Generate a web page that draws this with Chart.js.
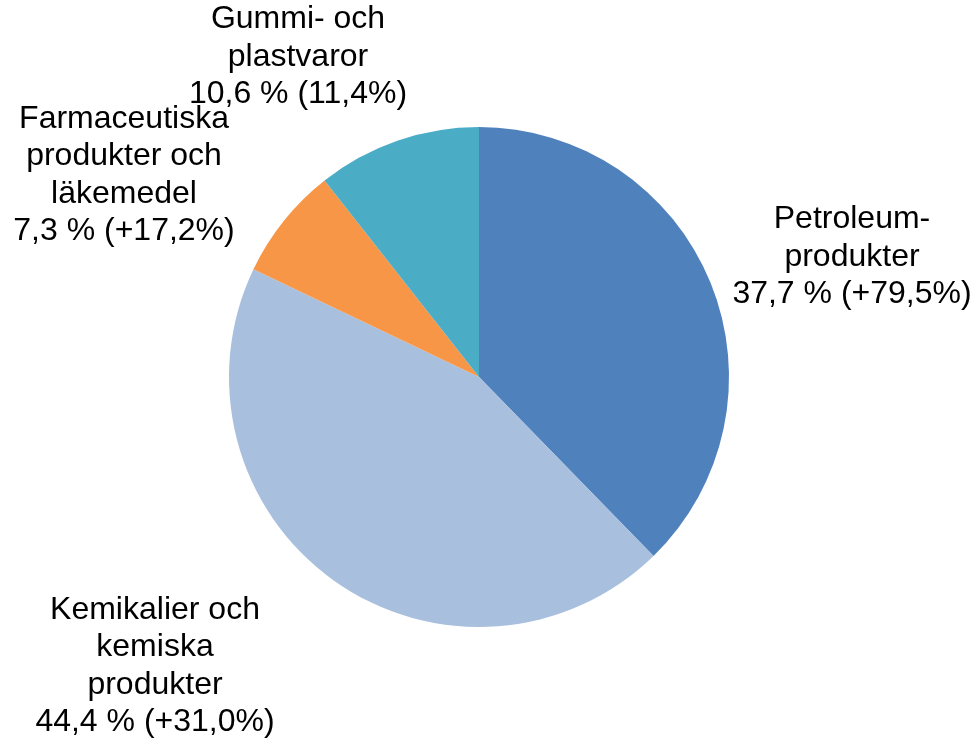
<!DOCTYPE html>
<html>
<head>
<meta charset="utf-8">
<script src="https://cdn.jsdelivr.net/npm/chart.js@4.4.1/dist/chart.umd.min.js"></script>
<style>
  html, body { margin: 0; padding: 0; background: #fff; }
  #wrap { width: 976px; height: 740px; }
</style>
</head>
<body>
<div id="wrap"><canvas id="pieChart" width="976" height="740"></canvas></div>
<script>
// data
const categories = [
  ["Petroleum-", "produkter"],
  ["Kemikalier och", "kemiska", "produkter"],
  ["Farmaceutiska", "produkter och", "läkemedel"],
  ["Gummi- och", "plastvaror"]
];
const shares = [37.7, 44.4, 7.3, 10.6];
const changes = ["+79,5%", "+31,0%", "+17,2%", "11,4%"];
const colors = ["#4F81BD", "#A8BFDE", "#F79646", "#4BACC6"];

// where each label block sits, relative to the pie centre
const labelOffsets = [[373, -120], [-324, 289], [-355, -202], [-181, -320]];

function fmt(v) {
  return v.toFixed(1).replace(".", ",");
}

const labelPlugin = {
  id: "sliceLabels",
  afterDraw(chart) {
    const ctx = chart.ctx;
    const arcs = chart.getDatasetMeta(0).data;
    const lineH = 37.5;
    ctx.save();
    ctx.fillStyle = "#000";
    ctx.font = "32px 'Liberation Sans', Arial, sans-serif";
    ctx.textAlign = "center";
    ctx.textBaseline = "middle";
    arcs.forEach((arc, i) => {
      const lines = categories[i].concat([fmt(shares[i]) + " % (" + changes[i] + ")"]);
      const cx = arc.x + labelOffsets[i][0];
      const cy = arc.y + labelOffsets[i][1];
      const top = cy - (lines.length - 1) * lineH / 2;
      lines.forEach((t, j) => ctx.fillText(t, cx, top + j * lineH));
    });
    ctx.restore();
  }
};

new Chart(document.getElementById("pieChart").getContext("2d"), {
  type: "pie",
  data: {
    labels: categories.map(c => c.join(" ")),
    datasets: [{
      data: shares,
      backgroundColor: colors,
      borderWidth: 0
    }]
  },
  options: {
    responsive: false,
    animation: false,
    layout: { padding: { left: 229, right: 247, top: 127, bottom: 113 } },
    plugins: {
      legend: { display: false },
      tooltip: { enabled: false }
    }
  },
  plugins: [labelPlugin]
});
</script>
</body>
</html>
